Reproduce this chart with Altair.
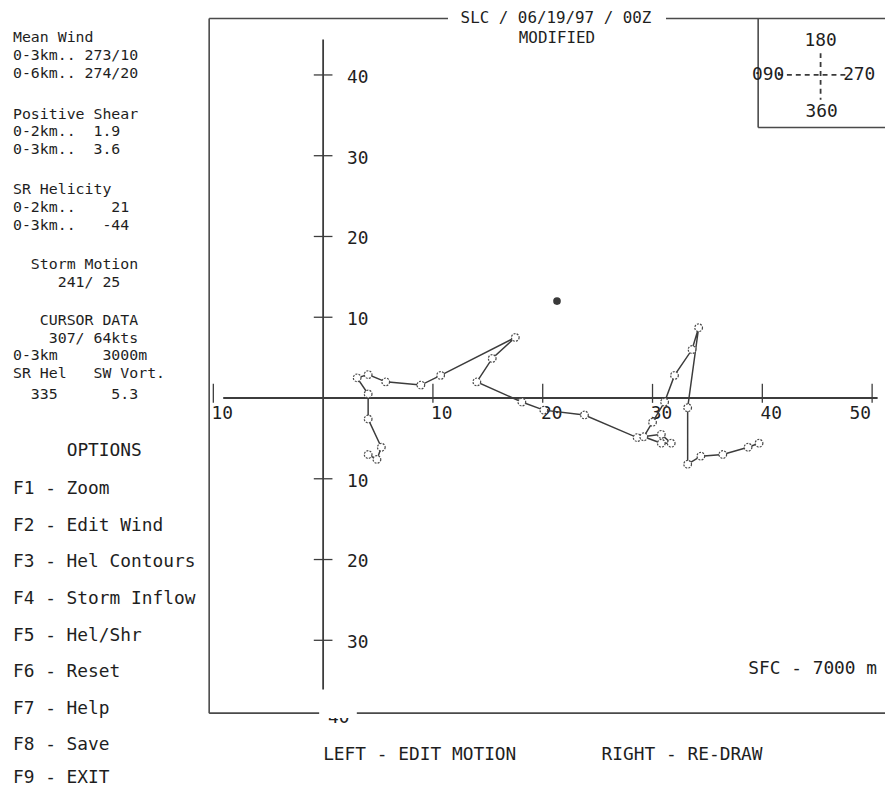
import altair as alt
import pandas as pd

# ---------------- data (knots) ----------------
# hodograph wind points, SFC -> 7000 m  (u = east, v = north)
hodo_u = [4.1, 4.9, 5.3, 4.1, 4.1, 3.1, 4.1, 5.7, 8.9, 10.7, 17.5, 15.4, 14.0,
          18.1, 20.1, 23.8, 28.6, 30.8, 31.7, 30.8, 29.2, 30.0, 31.1, 32.0,
          33.6, 34.2, 33.2, 33.2, 34.4, 36.4, 38.7, 39.7]
hodo_v = [-7.0, -7.6, -6.1, -2.6, 0.5, 2.5, 2.9, 2.0, 1.6, 2.8, 7.5, 4.9, 2.0,
          -0.5, -1.5, -2.1, -4.9, -4.5, -5.6, -5.6, -4.8, -3.0, -0.5, 2.8,
          6.0, 8.7, -1.2, -8.2, -7.2, -7.0, -6.1, -5.6]
storm_u = [21.3]
storm_v = [12.0]

x_tick_values = [-10, 10, 20, 30, 40]
x_tick_last = [50]
y_tick_values = [40, 30, 20, 10, -10, -20, -30]
y_hidden_label = [-40]

title_lines = ["SLC / 06/19/97 / 00Z", "MODIFIED"]
info_lines = ["Mean Wind", "0-3km.. 273/10", "0-6km.. 274/20",
              "Positive Shear", "0-2km..  1.9", "0-3km..  3.6",
              "SR Helicity", "0-2km..    21", "0-3km..   -44",
              "  Storm Motion", "     241/ 25",
              "   CURSOR DATA", "    307/ 64kts", "0-3km     3000m",
              "SR Hel   SW Vort.", "  335      5.3"]
option_lines = ["     OPTIONS", "F1 - Zoom", "F2 - Edit Wind", "F3 - Hel Contours",
                "F4 - Storm Inflow", "F5 - Hel/Shr", "F6 - Reset", "F7 - Help",
                "F8 - Save", "F9 - EXIT"]
compass_labels = ["180", "090", "270", "360"]
footer_lines = ["LEFT - EDIT MOTION", "RIGHT - RE-DRAW"]
layer_label = ["SFC - 7000 m"]

# ---------------- layout (page pixels) ----------------
W, H = 885, 781
M = 8                       # page margin
OX, OY = 326 - M, 398 - M   # hodograph origin inside the chart
SX, SY = 11.08, 8.15        # pixels per knot
FONT = "DejaVu Sans Mono"
FS = 18.0
FS_INFO = 15.0
FS_TITLE = 16.0
INK = "#1e1e1e"
LINE = "#3c3c3c"

xscale = alt.Scale(domain=[-OX / SX, (W - OX) / SX], nice=False, zero=False)
yscale = alt.Scale(domain=[(OY - H) / SY, OY / SY], nice=False, zero=False)


def X(f):
    return alt.X(f, type="quantitative", scale=xscale, axis=None)


def Y(f):
    return alt.Y(f, type="quantitative", scale=yscale, axis=None)


def text_layer(texts, xs, ys, align="left", size=FS):
    pitch = size * 0.602
    clean, px = [], []
    for t, x in zip(texts, xs):
        n = len(t) - len(t.lstrip(" "))
        clean.append(t.strip(" ").replace(" ", "\u00a0"))
        px.append(x + n * pitch - M)
    df = pd.DataFrame({"t": clean, "px": px, "py": [y - M for y in ys]})
    return alt.Chart(df).mark_text(align=align, baseline="middle", font=FONT,
                                   fontSize=size, color=INK).encode(
        x=alt.X("px:Q", scale=None), y=alt.Y("py:Q", scale=None), text="t:N")


def rule_layer(segs, color=LINE, width=1.6, dash=None):
    df = pd.DataFrame({"x1": [s[0] - M for s in segs], "y1": [s[1] - M for s in segs],
                       "x2": [s[2] - M for s in segs], "y2": [s[3] - M for s in segs]})
    kw = dict(color=color, strokeWidth=width)
    if dash:
        kw["strokeDash"] = dash
    return alt.Chart(df).mark_rule(**kw).encode(
        x=alt.X("x1:Q", scale=None), y=alt.Y("y1:Q", scale=None),
        x2="x2:Q", y2="y2:Q")


# ---------------- hodograph ----------------
hodo = pd.DataFrame({"i": range(len(hodo_u)), "u": hodo_u, "v": hodo_v})
storm = pd.DataFrame({"u": storm_u, "v": storm_v})

axes_df = pd.DataFrame({"u1": [-9.1, 0.0], "u2": [50.5, 0.0],
                        "v1": [0.0, -36.1], "v2": [0.0, 44.4]})
axes = alt.Chart(axes_df).mark_rule(color=LINE, strokeWidth=1.8).encode(
    x=X("u1"), x2="u2", y=Y("v1"), y2="v2")

xt = pd.DataFrame({"u": x_tick_values + x_tick_last})
xt["lab"] = xt["u"].abs().astype(str)
xt["lo"] = -0.6
xt["hi"] = 1.75
x_ticks = alt.Chart(xt).mark_rule(color=LINE, strokeWidth=1.3).encode(
    x=X("u"), y=Y("lo"), y2="hi")
x_labels = alt.Chart(xt).transform_filter("datum.u < 50").mark_text(
    align="center", baseline="middle", dx=9, dy=16, font=FONT, fontSize=FS,
    color=INK).encode(x=X("u"), y=alt.Y("z:Q", scale=yscale, axis=None),
                      text="lab:N").transform_calculate(z="0")
x_label_last = alt.Chart(xt).transform_filter("datum.u >= 50").mark_text(
    align="center", baseline="middle", dx=-12, dy=16, font=FONT, fontSize=FS,
    color=INK).encode(x=X("u"), y=alt.Y("z:Q", scale=yscale, axis=None),
                      text="lab:N").transform_calculate(z="0")

yt = pd.DataFrame({"v": y_tick_values})
yt["lab"] = yt["v"].abs().astype(str)
yt["lo"] = -0.85
yt["hi"] = 0.85
y_ticks = alt.Chart(yt).mark_rule(color=LINE, strokeWidth=1.3).encode(
    y=Y("v"), x=X("lo"), x2="hi")
y_labels = alt.Chart(yt).mark_text(
    align="left", baseline="middle", dx=24, dy=3, font=FONT, fontSize=FS,
    color=INK).encode(x=alt.X("z:Q", scale=xscale, axis=None), y=Y("v"),
                      text="lab:N").transform_calculate(z="0")

yh = pd.DataFrame({"v": y_hidden_label})
yh["lab"] = yh["v"].abs().astype(str)
y_hidden = alt.Chart(yh).mark_text(
    align="left", baseline="middle", dx=5, dy=-3, font=FONT, fontSize=FS,
    color=INK).encode(x=alt.X("z:Q", scale=xscale, axis=None), y=Y("v"),
                      text="lab:N").transform_calculate(z="0")
cover = alt.Chart(pd.DataFrame({"a": [0]})).mark_rect(color="white").encode(
    x=alt.value(322 - M), x2=alt.value(360 - M),
    y=alt.value(700 - M), y2=alt.value(721 - M))

path = alt.Chart(hodo).mark_line(color=LINE, strokeWidth=1.5).encode(
    x=X("u"), y=Y("v"), order="i:Q")
pts = alt.Chart(hodo).mark_point(shape="circle", filled=False, size=60,
                                 color="#4a4a4a", strokeWidth=1.2,
                                 strokeDash=[2, 1.2],
                                 fill="white", fillOpacity=1).encode(
    x=X("u"), y=Y("v"))
storm_pt = alt.Chart(storm).mark_point(shape="circle", filled=True, size=60,
                                       color="#3a3a3a", opacity=1).encode(
    x=X("u"), y=Y("v"))

# ---------------- frame / inset ----------------
frame = rule_layer([
    (211, 15, 452, 15),
    (672, 15, 903, 15),
    (211, 15, 211, 716),
    (211, 716, 903, 716),
    (765, 15, 765, 125),
    (765, 125, 903, 125),
], color="#4a4a4a", width=1.6)
compass = rule_layer([
    (828, 50, 828, 97),
    (785, 72, 857, 72),
], color="#3a3a3a", width=1.8, dash=[5, 4])

# ---------------- texts ----------------
t_title = text_layer(title_lines, [561, 562], [15, 35], align="center",
                     size=FS_TITLE)
t_info = text_layer(info_lines, [13] * len(info_lines),
                    [34, 52, 70, 111, 129, 147, 187, 205, 223,
                     263, 281, 319, 337, 355, 373, 394], size=FS_INFO)
t_opts = text_layer(option_lines, [13] * len(option_lines),
                    [452, 490, 527, 564, 601, 638, 675, 712, 748, 782])
t_comp = text_layer(compass_labels, [828, 775, 867, 829], [38, 72, 72, 109],
                    align="center")
t_foot = text_layer(footer_lines, [326, 607], [758, 758])
t_layer = text_layer(layer_label, [755], [672])

chart = alt.layer(
    frame, compass, axes, x_ticks, y_ticks, x_labels, x_label_last, y_labels,
    y_hidden, cover, path, pts, storm_pt,
    t_title, t_info, t_opts, t_comp, t_foot, t_layer,
).properties(
    width=W, height=H, padding=0,
    autosize=alt.AutoSizeParams(type="none"), background="white",
).configure_view(stroke=None)

chart.save("out.html", embed_options={"renderer": "svg", "actions": False})
